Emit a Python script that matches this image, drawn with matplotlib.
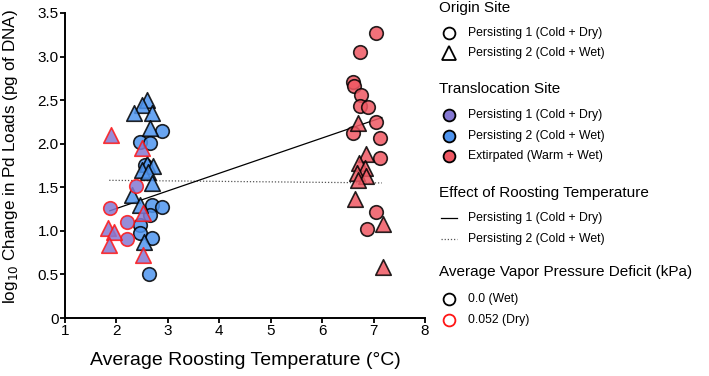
import matplotlib
matplotlib.use("Agg")
import matplotlib.pyplot as plt
from matplotlib.lines import Line2D

plt.rcParams['font.family'] = ['Liberation Sans', 'DejaVu Sans']

# ---- data ----
# Translocated to Persisting 2 (blue), origin Persisting 2 (triangles)
blue_tri_x = [2.59, 2.50, 2.35, 2.69, 2.65, 2.60, 2.72, 2.50, 2.62, 2.69, 2.31, 2.46, 2.54]
blue_tri_y = [2.50, 2.45, 2.35, 2.35, 2.18, 1.77, 1.75, 1.70, 1.68, 1.55, 1.41, 1.30, 0.87]
# Translocated to Persisting 2 (blue), origin Persisting 1 (circles)
blue_cir_x = [2.88, 2.46, 2.65, 2.56, 2.69, 2.88, 2.65, 2.45, 2.45, 2.69, 2.63]
blue_cir_y = [2.15, 2.02, 2.01, 1.76, 1.30, 1.27, 1.18, 1.07, 0.98, 0.92, 0.51]
# Translocated to Persisting 1 (purple, dry VPD)
purple_tri_x = [1.89, 2.50, 2.52, 1.84, 1.96, 1.86, 2.52]
purple_tri_y = [2.10, 1.95, 1.20, 1.03, 0.99, 0.84, 0.72]
purple_cir_x = [2.39, 1.88, 2.20, 2.20]
purple_cir_y = [1.51, 1.26, 1.10, 0.91]
# Translocated to Extirpated (red)
red_cir_x = [7.05, 6.74, 6.60, 6.61, 6.75, 6.74, 6.89, 7.05, 6.60, 7.12, 7.12, 7.05, 6.88]
red_cir_y = [3.27, 3.05, 2.71, 2.66, 2.56, 2.43, 2.42, 2.25, 2.12, 2.07, 1.84, 1.22, 1.02]
red_tri_x = [6.69, 6.86, 6.71, 6.84, 6.68, 6.86, 6.70, 6.64, 7.18, 7.18]
red_tri_y = [2.24, 1.88, 1.78, 1.72, 1.66, 1.63, 1.58, 1.36, 1.08, 0.58]

# effect lines (endpoints)
p1_line_x = [1.87, 7.16]
p1_line_y = [1.23, 2.30]
p2_line_x = [1.86, 7.16]
p2_line_y = [1.58, 1.55]

x_ticks = [1, 2, 3, 4, 5, 6, 7, 8]
y_ticks = [0, 0.5, 1.0, 1.5, 2.0, 2.5, 3.0, 3.5]
y_tick_labels = ['0', '0.5', '1.0', '1.5', '2.0', '2.5', '3.0', '3.5']

C_PURPLE = '#8578d2'
C_BLUE = '#4f95ef'
C_RED = '#ef5863'
E_DRY = '#ff1515'
ALPHA = 0.85

W, H = 709, 376
fig = plt.figure(figsize=(W / 100, H / 100), dpi=100)
ax = fig.add_axes([65 / W, 1 - 318 / H, (425 - 65) / W, (318 - 13) / H])

ax.plot(p2_line_x, p2_line_y, color='#555555', lw=0.9, ls=(0, (1, 1.5)), zorder=1)
ax.plot(p1_line_x, p1_line_y, color='black', lw=0.9, zorder=1)

cs, ts, lw = 95, 125, 1.2
ax.scatter(blue_cir_x, blue_cir_y, s=cs, marker='o', c=C_BLUE, edgecolors='black', linewidths=lw, alpha=ALPHA, zorder=3)
ax.scatter(blue_tri_x, blue_tri_y, s=ts, marker='^', c=C_BLUE, edgecolors='black', linewidths=lw, alpha=ALPHA, zorder=3)
ax.scatter(purple_cir_x, purple_cir_y, s=cs, marker='o', c=C_PURPLE, edgecolors=E_DRY, linewidths=lw, alpha=ALPHA, zorder=3)
ax.scatter(purple_tri_x, purple_tri_y, s=ts, marker='^', c=C_PURPLE, edgecolors=E_DRY, linewidths=lw, alpha=ALPHA, zorder=3)
ax.scatter(red_cir_x, red_cir_y, s=cs, marker='o', c=C_RED, edgecolors='black', linewidths=lw, alpha=ALPHA, zorder=3)
ax.scatter(red_tri_x, red_tri_y, s=ts, marker='^', c=C_RED, edgecolors='black', linewidths=lw, alpha=ALPHA, zorder=3)

ax.set_xlim(1, 8)
ax.set_ylim(0, 3.5)
ax.set_xticks(x_ticks)
ax.set_yticks(y_ticks)
ax.set_yticklabels(y_tick_labels)
for s in ['top', 'right']:
    ax.spines[s].set_visible(False)
for s in ['left', 'bottom']:
    ax.spines[s].set_linewidth(1.4)
ax.tick_params(direction='out', length=3.5, width=1.3, labelsize=11, pad=1, colors='black')
ax.set_xlabel('Average Roosting Temperature (°C)', fontsize=14, labelpad=10)
ax.set_ylabel('log$_{10}$ Change in Pd Loads (pg of DNA)', fontsize=12.3)
ax.yaxis.set_label_coords(-0.125, 0.53)

# ---- legend (manual) ----
def fxy(px, py):
    return px / W, 1 - py / H

TX, MX, LX = 439, 449, 468
TFS, EFS = 11, 8.8

def title(py, s):
    fig.text(*fxy(TX, py), s, fontsize=TFS, ha='left', va='center')

def entry(py, s, **mk):
    x, y = fxy(MX, py)
    fig.add_artist(Line2D([x], [y], transform=fig.transFigure, ls='none', **mk))
    fig.text(*fxy(LX, py), s, fontsize=EFS, ha='left', va='center')

def line_entry(py, s, **ln):
    x0, y0 = fxy(441, py)
    x1, _ = fxy(457, py)
    fig.add_artist(Line2D([x0, x1], [y0, y0], transform=fig.transFigure, **ln))
    fig.text(*fxy(LX, py), s, fontsize=EFS, ha='left', va='center')

title(8, 'Origin Site')
entry(33, 'Persisting 1 (Cold + Dry)', marker='o', ms=8.5, mfc='none', mec='black', mew=1.3)
entry(53, 'Persisting 2 (Cold + Wet)', marker='^', ms=10.5, mfc='none', mec='black', mew=1.3)

title(89, 'Translocation Site')
entry(115, 'Persisting 1 (Cold + Dry)', marker='o', ms=8.5, mfc=C_PURPLE, mec='black', mew=1.3)
entry(136, 'Persisting 2 (Cold + Wet)', marker='o', ms=8.5, mfc=C_BLUE, mec='black', mew=1.3)
entry(156, 'Extirpated (Warm + Wet)', marker='o', ms=8.5, mfc=C_RED, mec='black', mew=1.3)

title(193, 'Effect of Roosting Temperature')
line_entry(218, 'Persisting 1 (Cold + Dry)', color='black', lw=0.9)
line_entry(239, 'Persisting 2 (Cold + Wet)', color='#555555', lw=0.9, ls=(0, (1, 1.5)))

title(272, 'Average Vapor Pressure Deficit (kPa)')
entry(299, '0.0 (Wet)', marker='o', ms=8.5, mfc='none', mec='black', mew=1.3)
entry(320, '0.052 (Dry)', marker='o', ms=8.5, mfc='none', mec=E_DRY, mew=1.3)

fig.savefig('out.png', dpi=100)
